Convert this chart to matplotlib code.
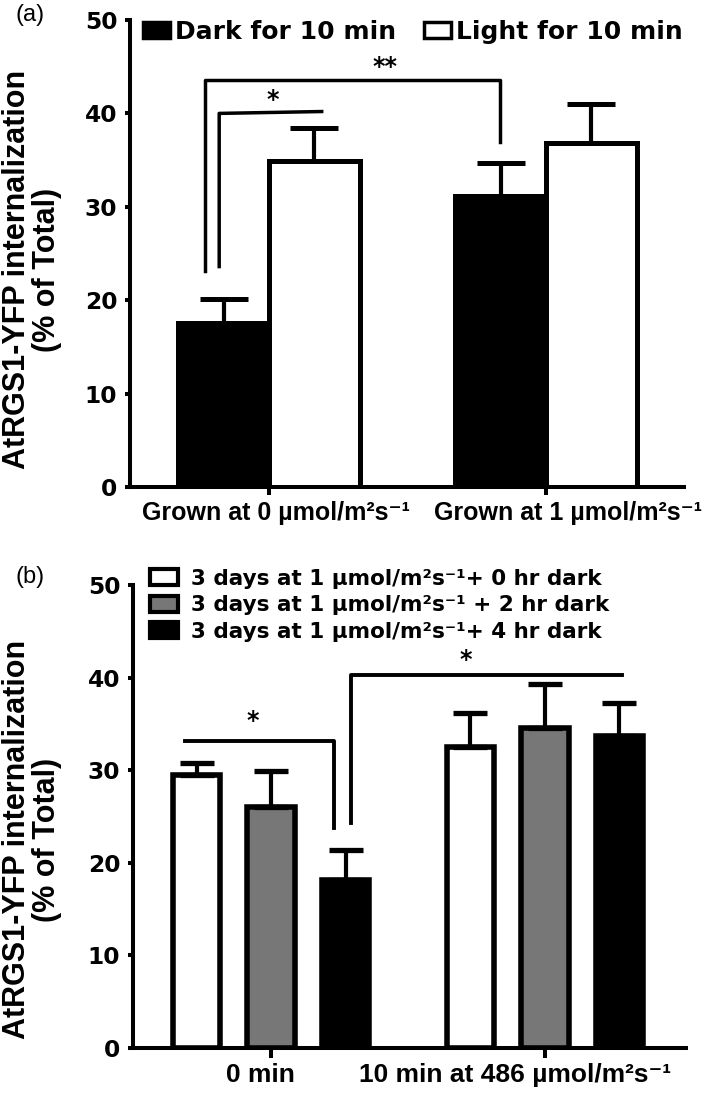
import matplotlib
matplotlib.use("Agg")
import matplotlib.pyplot as plt
import matplotlib.transforms as mtransforms
from matplotlib.patches import Patch
import numpy as np

# ---------------- data ----------------
# panel (a)
groups_a = ["Grown at 0 \u00b5mol/m\u00b2s\u207b\u00b9", "Grown at 1 \u00b5mol/m\u00b2s\u207b\u00b9"]
series_a = ["Dark for 10 min", "Light for 10 min"]
dark_vals = [17.6, 31.2]
dark_err = [2.5, 3.5]
light_vals = [34.9, 36.8]
light_err = [3.5, 4.2]

# panel (b)
groups_b = ["0 min", "10 min at 486 \u00b5mol/m\u00b2s\u207b\u00b9"]
series_b = ["3 days at 1 \u00b5mol/m\u00b2s\u207b\u00b9+ 0 hr dark",
            "3 days at 1 \u00b5mol/m\u00b2s\u207b\u00b9 + 2 hr dark",
            "3 days at 1 \u00b5mol/m\u00b2s\u207b\u00b9+ 4 hr dark"]
h0_vals = [29.5, 32.5]
h0_err = [1.3, 3.7]
h2_vals = [26.0, 34.6]
h2_err = [3.9, 4.7]
h4_vals = [18.1, 33.7]
h4_err = [3.3, 3.6]

yticks = [0, 10, 20, 30, 40, 50]
ylabel = "AtRGS1-YFP internalization\n(% of Total)"

# ---------------- style ----------------
TXT = ["Liberation Sans", "DejaVu Sans"]
TICKF = ["DejaVu Sans"]
plt.rcParams["font.family"] = TXT
LW_AX = 2.9

fig = plt.figure(figsize=(7.09, 10.93), dpi=100)


def style_axes(ax, xlen):
    for s in ["top", "right"]:
        ax.spines[s].set_visible(False)
    for s in ["left", "bottom"]:
        ax.spines[s].set_linewidth(LW_AX)
    ax.set_ylim(0, 50)
    ax.set_yticks(yticks)
    ax.tick_params(axis="y", length=3.6, width=LW_AX, pad=5.5)
    ax.tick_params(axis="x", length=xlen, width=LW_AX, pad=4)
    for lab in ax.get_yticklabels():
        lab.set_family(TICKF)
        lab.set_fontweight("bold")
        lab.set_fontsize(16.8)


def shift_xlabels(ax, offsets_px):
    for lab, dx in zip(ax.get_xticklabels(), offsets_px):
        lab.set_transform(lab.get_transform() +
                          mtransforms.ScaledTranslation(dx / 100.0, 0, fig.dpi_scale_trans))


# ================= panel (a) =================
ax1 = fig.add_axes([130 / 709, 1 - 487 / 1093, 554 / 709, 467 / 1093])
xa = np.arange(len(groups_a))
wa = 0.327
ax1.bar(xa - wa / 2, dark_vals, wa, color="black", edgecolor="black", linewidth=3.6, zorder=2)
ax1.bar(xa + wa / 2, light_vals, wa, color="white", edgecolor="black", linewidth=3.6, zorder=2)
ax1.errorbar(xa - wa / 2, dark_vals, yerr=[np.zeros(len(xa)), dark_err], fmt="none",
             ecolor="black", elinewidth=3.0, capsize=17.5, capthick=3.6, zorder=3)
ax1.errorbar(xa + wa / 2, light_vals, yerr=[np.zeros(len(xa)), light_err], fmt="none",
             ecolor="black", elinewidth=3.0, capsize=17.5, capthick=3.6, zorder=3)
ax1.set_xlim(-0.502, 1.498)
ax1.set_xticks(xa)
ax1.set_xticklabels(groups_a, fontsize=18, fontweight="bold")
style_axes(ax1, 5.8)
shift_xlabels(ax1, [7, 22])

# significance brackets (a)
ax1.plot([-0.18, -0.18, 0.19], [23.6, 40.0, 40.2], color="black", lw=2.5, zorder=4)
ax1.text(0.015, 40.2, "*", ha="center", va="bottom", fontsize=17, fontweight="bold", family=TICKF)
ax1.plot([-0.23, -0.23, 0.834, 0.834], [23.1, 43.6, 43.6, 36.9], color="black", lw=2.5, zorder=4)
ax1.text(0.42, 43.7, "**", ha="center", va="bottom", fontsize=17, fontweight="bold", family=TICKF)

ax1.set_ylabel(ylabel, fontsize=22, fontweight="bold", linespacing=1.0)
ax1.yaxis.set_label_coords(-0.123, 0.465)

handles_a = [Patch(facecolor="black", edgecolor="black", linewidth=2.5),
             Patch(facecolor="white", edgecolor="black", linewidth=2.5)]
ax1.legend(handles_a, series_a, loc="upper left", bbox_to_anchor=(0.0235, 1.0),
           ncol=2, frameon=False, borderaxespad=0, borderpad=0,
           handlelength=1.08, handleheight=0.6, handletextpad=0.2, columnspacing=1.1,
           prop={"family": TICKF, "weight": "bold", "size": 18})
fig.text(30 / 709, 1 - 15 / 1093, "(a)", ha="center", va="center", fontsize=17)

# ================= panel (b) =================
ax2 = fig.add_axes([133 / 709, 1 - 1048 / 1093, 553 / 709, 463 / 1093])
xb = np.arange(len(groups_b))
off = 0.272
wb = 0.173
ekw = dict(fmt="none", ecolor="black", elinewidth=3.0, capsize=12, capthick=3.8, zorder=3)
ax2.bar(xb - off, h0_vals, wb, color="white", edgecolor="black", linewidth=4, zorder=2)
ax2.bar(xb, h2_vals, wb, color="#777777", edgecolor="black", linewidth=4, zorder=2)
ax2.bar(xb + off, h4_vals, wb, color="black", edgecolor="black", linewidth=4, zorder=2)
ax2.errorbar(xb - off, h0_vals, yerr=[np.zeros(len(xb)), h0_err], **ekw)
ax2.errorbar(xb, h2_vals, yerr=[np.zeros(len(xb)), h2_err], **ekw)
ax2.errorbar(xb + off, h4_vals, yerr=[np.zeros(len(xb)), h4_err], **ekw)
ax2.set_xlim(-0.504, 1.515)
ax2.set_xticks(xb)
ax2.set_xticklabels(groups_b, fontsize=19, fontweight="bold")
style_axes(ax2, 7.0)
shift_xlabels(ax2, [-11, -30])

# significance brackets (b)
ax2.plot([-0.314, 0.23, 0.23], [33.2, 33.2, 23.8], color="black", lw=2.8, zorder=4)
ax2.text(-0.066, 34.0, "*", ha="center", va="bottom", fontsize=17, fontweight="bold", family=TICKF)
ax2.plot([0.292, 0.292, 1.28], [24.3, 40.3, 40.3], color="black", lw=2.8, zorder=4)
ax2.text(0.71, 40.6, "*", ha="center", va="bottom", fontsize=17, fontweight="bold", family=TICKF)

ax2.set_ylabel(ylabel, fontsize=22, fontweight="bold", linespacing=1.0)
ax2.yaxis.set_label_coords(-0.128, 0.45)

handles_b = [Patch(facecolor="white", edgecolor="black", linewidth=3),
             Patch(facecolor="#777777", edgecolor="black", linewidth=3),
             Patch(facecolor="black", edgecolor="black", linewidth=3)]
ax2.legend(handles_b, series_b, loc="upper left", bbox_to_anchor=(0.031, 1.035),
           ncol=1, frameon=False, borderaxespad=0, borderpad=0,
           handlelength=1.3, handleheight=0.77, handletextpad=0.62, labelspacing=0.3,
           prop={"family": TICKF, "weight": "bold", "size": 15.5})
fig.text(30 / 709, 1 - 577 / 1093, "(b)", ha="center", va="center", fontsize=17)

fig.savefig("out.png", dpi=100)
